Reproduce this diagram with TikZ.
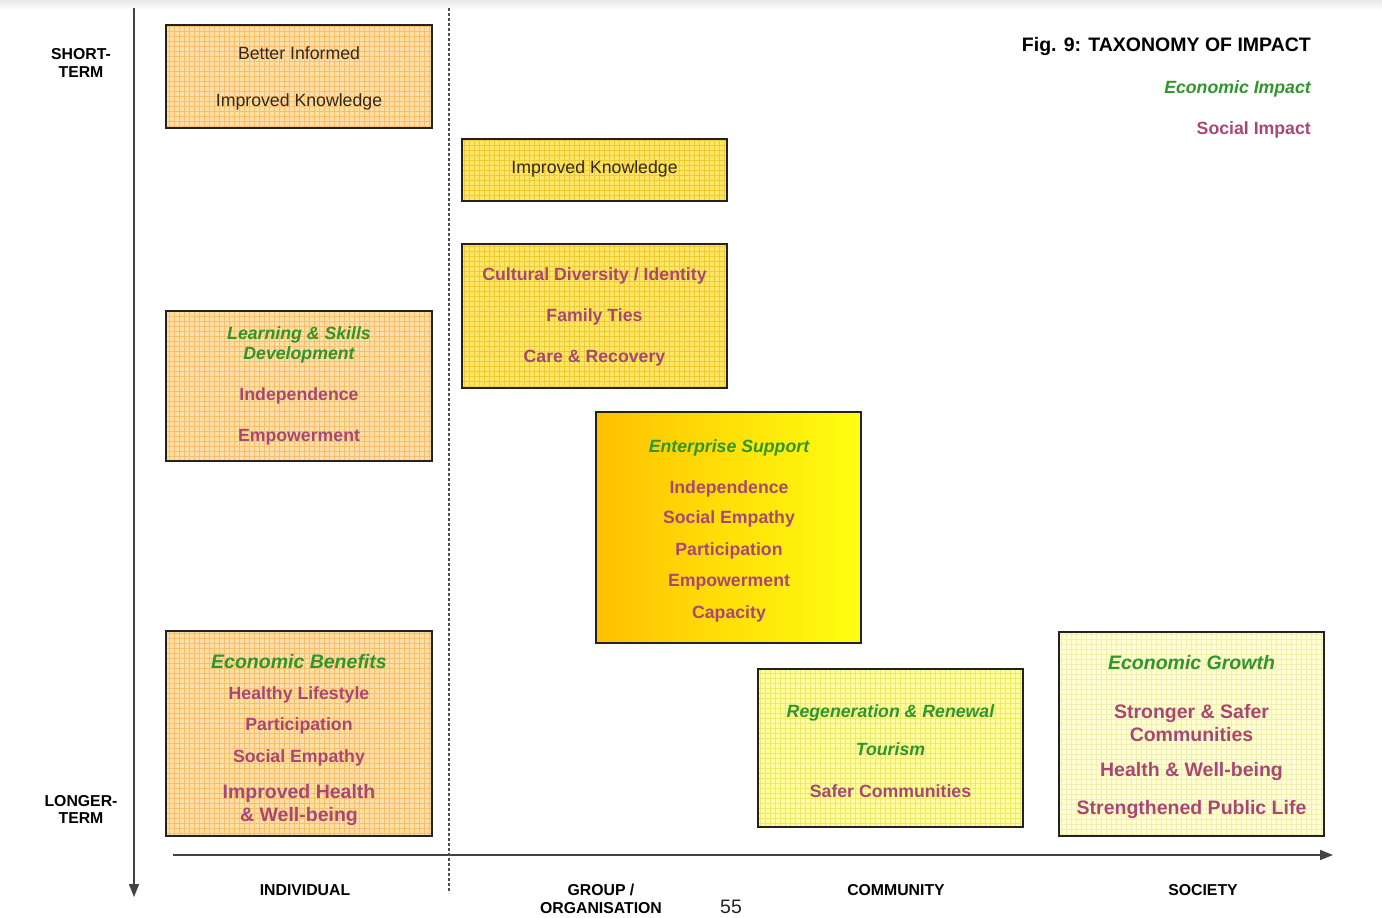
\documentclass[tikz,border=0pt]{standalone}
\usepackage{fontspec}
\setmainfont{Liberation Sans}
\usetikzlibrary{arrows.meta}

\definecolor{ink}{HTML}{222222}
\definecolor{econ}{HTML}{2E962A}
\definecolor{soc}{HTML}{A84872}
\definecolor{plain}{HTML}{33281A}
\definecolor{orfill}{HTML}{FFDFA3}
\definecolor{orgrid}{HTML}{F7BE6E}
\definecolor{yefill}{HTML}{FFE766}
\definecolor{yegrid}{HTML}{EECB36}
\definecolor{ltfill}{HTML}{FFFF9E}
\definecolor{ltgrid}{HTML}{EEE86A}
\definecolor{pafill}{HTML}{FFFFD4}
\definecolor{pagrid}{HTML}{F4EEB0}
\definecolor{gradL}{HTML}{FFC000}
\definecolor{gradR}{HTML}{FFFF10}

\tikzset{
  x=1pt, y=-1pt,
  tbox/.style={draw=ink, line width=1.4pt, inner sep=0pt, outer sep=0pt},
  gridded/.style 2 args={fill=#1,
    path picture={\draw[draw=#2, line width=0.9pt, step=5pt]
      (path picture bounding box.south west) grid (path picture bounding box.north east);}},
  lbl/.style={anchor=base, inner sep=0pt},
  plaintxt/.style={lbl, text=plain, font=\fontsize{17.7}{20}\selectfont},
  ectxt/.style={lbl, text=econ, font=\fontsize{17.7}{20}\selectfont\bfseries\itshape},
  sotxt/.style={lbl, text=soc, font=\fontsize{17.7}{20}\selectfont\bfseries},
  ecbig/.style={lbl, text=econ, font=\fontsize{19.5}{22}\selectfont\bfseries\itshape},
  sobig/.style={lbl, text=soc, font=\fontsize{19.5}{22}\selectfont\bfseries},
  axlbl/.style={lbl, text=black, font=\fontsize{15.8}{18}\selectfont\bfseries},
  axisline/.style={draw=ink!85, line width=1.5pt, -{Triangle[length=13pt,width=10pt]}},
  divider/.style={draw=ink!80, line width=1.1pt, dash pattern=on 3pt off 2pt},
}

\begin{document}
\begin{tikzpicture}
\useasboundingbox (0,0) rectangle (1382,918);
\shade[top color=black!9, bottom color=white] (0,0) rectangle (1382,10);

% axes and the dividing line
\coordinate (vtop) at (134,8);
\coordinate (vbot) at (134,897);
\coordinate (hleft) at (173,855);
\coordinate (hright) at (1333,855);
\coordinate (dtop) at (449,8);
\coordinate (dbot) at (449,893);
\draw[axisline] (vtop) -- (vbot);
\draw[axisline] (hleft) -- (hright);
\draw[divider] (dtop) -- (dbot);

% axis labels
\node[axlbl] (st1) at (81,59) {SHORT-};
\node[axlbl] (st2) at (81,77) {TERM};
\node[axlbl] (lt1) at (81,806) {LONGER-};
\node[axlbl] (lt2) at (81,823) {TERM};
\node[axlbl] (xind) at (305,895) {INDIVIDUAL};
\node[axlbl] (xgrp1) at (601,895) {GROUP /};
\node[axlbl] (xgrp2) at (601,913) {ORGANISATION};
\node[axlbl] (xcom) at (896,895) {COMMUNITY};
\node[axlbl] (xsoc) at (1203,895) {SOCIETY};
\node[lbl, font=\fontsize{19.5}{22}\selectfont, text=ink] (pg) at (731,913) {55};

% title and key
\node[lbl, anchor=base east, font=\fontsize{19.5}{22}\selectfont\bfseries, text=black] (title) at (1311,51) {Fig. 9: TAXONOMY OF IMPACT};
\node[ectxt, anchor=base east] (keyecon) at (1311,93) {Economic Impact};
\node[sotxt, anchor=base east] (keysoc) at (1311,134) {Social Impact};

% boxes
\node[tbox, gridded={orfill}{orgrid}, minimum width=266pt, minimum height=103pt] (bA) at (299,76.5) {};
\node[tbox, gridded={yefill}{yegrid}, minimum width=265pt, minimum height=62pt] (bB) at (594.5,170) {};
\node[tbox, gridded={yefill}{yegrid}, minimum width=265pt, minimum height=144pt] (bC) at (594.5,316) {};
\node[tbox, gridded={orfill}{orgrid}, minimum width=266pt, minimum height=150pt] (bD) at (299,386) {};
\node[tbox, left color=gradL, right color=gradR, minimum width=265pt, minimum height=231pt] (bE) at (728.5,527.5) {};
\node[tbox, gridded={orfill}{orgrid}, minimum width=266pt, minimum height=205pt] (bF) at (299,733.5) {};
\node[tbox, gridded={ltfill}{ltgrid}, minimum width=265pt, minimum height=158pt] (bG) at (890.5,748) {};
\node[tbox, gridded={pafill}{pagrid}, minimum width=265pt, minimum height=204pt] (bH) at (1191.5,734) {};

% box texts
\node[plaintxt] (a1) at (299,59) {Better Informed};
\node[plaintxt] (a2) at (299,106) {Improved Knowledge};

\node[plaintxt] (b1) at (594.5,173) {Improved Knowledge};

\node[sotxt] (c1) at (594.5,280) {Cultural Diversity / Identity};
\node[sotxt] (c2) at (594.5,321) {Family Ties};
\node[sotxt] (c3) at (594.5,362) {Care \& Recovery};

\node[ectxt] (d1) at (299,339) {Learning \& Skills};
\node[ectxt] (d2) at (299,359) {Development};
\node[sotxt] (d3) at (299,400) {Independence};
\node[sotxt] (d4) at (299,441) {Empowerment};

\node[ectxt] (e1) at (729,452) {Enterprise Support};
\node[sotxt] (e2) at (729,493) {Independence};
\node[sotxt] (e3) at (729,523) {Social Empathy};
\node[sotxt] (e4) at (729,555) {Participation};
\node[sotxt] (e5) at (729,586) {Empowerment};
\node[sotxt] (e6) at (729,618) {Capacity};

\node[ecbig] (f1) at (299,668) {Economic Benefits};
\node[sotxt] (f2) at (299,699) {Healthy Lifestyle};
\node[sotxt] (f3) at (299,730) {Participation};
\node[sotxt] (f4) at (299,762) {Social Empathy};
\node[sobig] (f5) at (299,798) {Improved Health};
\node[sobig] (f6) at (299,821) {\& Well-being};

\node[ectxt] (g1) at (890.5,717) {Regeneration \& Renewal};
\node[ectxt] (g2) at (890.5,755) {Tourism};
\node[sotxt] (g3) at (890.5,797) {Safer Communities};

\node[ecbig] (h1) at (1191.5,669) {Economic Growth};
\node[sobig] (h2) at (1191.5,718) {Stronger \& Safer};
\node[sobig] (h3) at (1191.5,741) {Communities};
\node[sobig] (h4) at (1191.5,776) {Health \& Well-being};
\node[sobig] (h5) at (1191.5,814) {Strengthened Public Life};
\end{tikzpicture}
\end{document}
